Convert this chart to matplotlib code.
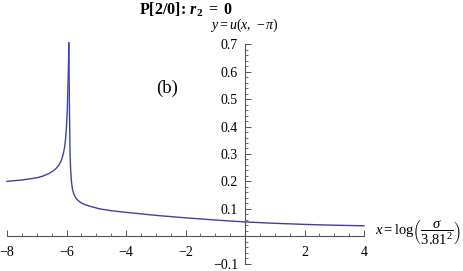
import matplotlib
matplotlib.use("Agg")
import matplotlib.pyplot as plt
from matplotlib.ticker import MultipleLocator, FixedLocator

plt.rcParams['mathtext.fontset'] = 'custom'
plt.rcParams['mathtext.rm'] = 'Liberation Serif'
plt.rcParams['mathtext.it'] = 'Liberation Serif:italic'
plt.rcParams['mathtext.bf'] = 'Liberation Serif:bold'
plt.rcParams['mathtext.bfit'] = 'Liberation Serif:bold:italic'
plt.rcParams['font.family'] = ['Liberation Serif']

# Left branch (before the spike)
x_left = [-8.0, -7.5, -7.0, -6.8, -6.6, -6.45, -6.35, -6.25, -6.18, -6.12, -6.07,
          -6.03, -6.0, -5.97, -5.95, -5.93, -5.92]
y_left = [0.200, 0.205, 0.213, 0.219, 0.228, 0.238, 0.247, 0.260, 0.275, 0.295, 0.320,
          0.355, 0.400, 0.470, 0.550, 0.640, 0.705]
# Right branch (after the spike)
x_right = [-5.92, -5.90, -5.88, -5.86, -5.83, -5.80, -5.75, -5.68, -5.60, -5.50, -5.35,
           -5.20, -4.90, -4.50, -4.0, -3.0, -2.0, -1.0, 0.0, 1.0, 2.0, 3.0, 4.0]
y_right = [0.705, 0.450, 0.300, 0.240, 0.195, 0.172, 0.152, 0.138, 0.129, 0.121, 0.114,
           0.109, 0.100, 0.093, 0.087, 0.076, 0.067, 0.059, 0.052, 0.047, 0.043, 0.040, 0.038]

x_ticks = [-8, -6, -4, -2, 2, 4]
y_ticks = [-0.1, 0.1, 0.2, 0.3, 0.4, 0.5, 0.6, 0.7]

W, H = 463, 271
fig = plt.figure(figsize=(W / 100, H / 100), dpi=100)
ax = fig.add_axes([7 / W, 1 - 263.6 / H, (364 - 7) / W, (263.6 - 44.3) / H])

line_color = (0.25, 0.25, 0.65)
ax.plot(x_left, y_left, color=line_color, lw=1.0, clip_on=False)
ax.plot(x_right, y_right, color=line_color, lw=1.0, clip_on=False)

ax.set_xlim(-8, 4)
ax.set_ylim(-0.1, 0.7)

for s in ['top', 'right']:
    ax.spines[s].set_visible(False)
ax.spines['left'].set_position(('data', 0))
ax.spines['bottom'].set_position(('data', 0))
axis_col = '#555555'
for s in ['left', 'bottom']:
    ax.spines[s].set_color(axis_col)
    ax.spines[s].set_linewidth(0.8)

ax.xaxis.set_major_locator(FixedLocator(x_ticks))
ax.xaxis.set_minor_locator(MultipleLocator(0.5))
ax.yaxis.set_major_locator(FixedLocator(y_ticks))
ax.yaxis.set_minor_locator(MultipleLocator(0.02))
ax.set_xticklabels([f"{v:d}".replace('-', '\u2212') for v in x_ticks])
ax.set_yticklabels([f"{v:.1f}".replace('-', '\u2212') for v in y_ticks])

ax.tick_params(which='both', direction='in', color=axis_col, labelsize=10)
ax.tick_params(which='major', length=4, width=0.7)
ax.tick_params(which='minor', length=2.2, width=0.6)
ax.tick_params(axis='x', pad=7)
ax.tick_params(axis='y', pad=5)
ax.patch.set_alpha(0)

fig.text(186 / W, 1 - 10 / H, r'$\mathbf{P[2/0]\!:}\,\mathbfit{r}_{\mathbf{2}}\ \mathbf{=\ 0}$',
         ha='center', va='center', fontsize=11.5)
fig.text(244 / W, 1 - 25.5 / H, r'$y = u(x,\,-\pi)$', ha='center', va='center', fontsize=10)
fig.text(167.5 / W, 1 - 88 / H, '(b)', ha='center', va='center', fontsize=13.5)
fig.text(461 / W, 1 - 233 / H, r'$x = \log\!\left(\dfrac{\sigma}{3.81^2}\right)$',
         ha='right', va='center', fontsize=10.5)

fig.savefig('out.png', dpi=100)
